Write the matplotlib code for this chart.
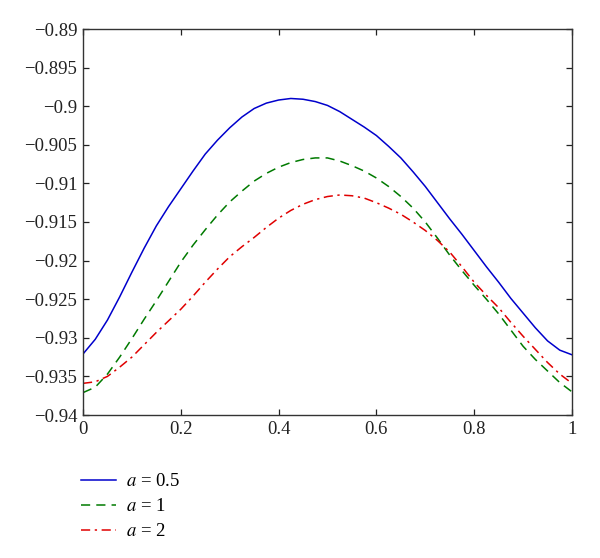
# Recreate: three curves for a = 0.5, 1, 2 over [0, 1]

import matplotlib
matplotlib.use('Agg')
import matplotlib.pyplot as plt

plt.rcParams['font.family'] = ['Liberation Serif', 'DejaVu Serif']
plt.rcParams['mathtext.fontset'] = 'stix'

# data (step 0.025)
x = [0.0, 0.025, 0.05, 0.075, 0.10, 0.125, 0.15, 0.175, 0.20, 0.225,
     0.25, 0.275, 0.30, 0.325, 0.35, 0.375, 0.40, 0.425, 0.45, 0.475,
     0.50, 0.525, 0.55, 0.575, 0.60, 0.625, 0.65, 0.675, 0.70, 0.725,
     0.75, 0.775, 0.80, 0.825, 0.85, 0.875, 0.90, 0.925, 0.95, 0.975, 1.0]
y_a05 = [-0.9321, -0.9302, -0.9277, -0.9247, -0.9215, -0.9184, -0.9155, -0.9130,
         -0.9107, -0.9084, -0.9062, -0.9044, -0.9028, -0.9014, -0.9003, -0.8996,
         -0.8992, -0.8990, -0.8991, -0.8994, -0.8999, -0.9007, -0.9017, -0.9027,
         -0.9038, -0.9052, -0.9067, -0.9085, -0.9104, -0.9125, -0.9146, -0.9166,
         -0.9187, -0.9208, -0.9228, -0.9249, -0.9268, -0.9287, -0.9304, -0.9316,
         -0.9322]
y_a1 = [-0.9371, -0.9364, -0.9347, -0.9325, -0.9301, -0.9276, -0.9252, -0.9227,
        -0.9202, -0.9180, -0.9160, -0.9141, -0.9124, -0.9110, -0.9097, -0.9087,
        -0.9079, -0.9073, -0.9069, -0.9067, -0.9067, -0.9071, -0.9077, -0.9084,
        -0.9093, -0.9104, -0.9117, -0.9132, -0.9150, -0.9171, -0.9193, -0.9213,
        -0.9232, -0.9250, -0.9269, -0.9290, -0.9311, -0.9328, -0.9343, -0.9358,
        -0.9370]
y_a2 = [-0.9359, -0.9357, -0.9350, -0.9338, -0.9325, -0.9309, -0.9293, -0.9278,
        -0.9263, -0.9246, -0.9228, -0.9211, -0.9195, -0.9182, -0.9170, -0.9157,
        -0.9145, -0.9135, -0.9127, -0.9121, -0.9117, -0.9115, -0.9116, -0.9119,
        -0.9125, -0.9132, -0.9140, -0.9150, -0.9161, -0.9174, -0.9189, -0.9208,
        -0.9228, -0.9245, -0.9261, -0.9280, -0.9298, -0.9315, -0.9332, -0.9347,
        -0.9359]
labels = ['$a$ = 0.5', '$a$ = 1', '$a$ = 2']
xticks = [0, 0.2, 0.4, 0.6, 0.8, 1]
xtick_labels = ['0', '0.2', '0.4', '0.6', '0.8', '1']
yticks = [-0.94, -0.935, -0.93, -0.925, -0.92, -0.915, -0.91, -0.905, -0.9, -0.895, -0.89]
ytick_labels = ['\u22120.94', '\u22120.935', '\u22120.93', '\u22120.925', '\u22120.92',
                '\u22120.915', '\u22120.91', '\u22120.905', '\u22120.9', '\u22120.895', '\u22120.89']

fig = plt.figure(figsize=(6, 5.58), dpi=100)
ax = fig.add_axes([83/600, 1 - 415/558, (572 - 83)/600, (415 - 29)/558])

l1, = ax.plot(x, y_a05, color='#0000cc', lw=1.1, label=labels[0])
l2, = ax.plot(x, y_a1, color='#007a00', lw=1.1, ls=(0, (6, 4)), label=labels[1])
l3, = ax.plot(x, y_a2, color='#e00000', lw=1.1, ls=(0, (6, 3, 1.5, 3)), label=labels[2])

ax.set_xlim(0, 1)
ax.set_ylim(-0.94, -0.89)
ax.set_xticks(xticks)
ax.set_xticklabels(xtick_labels)
ax.set_yticks(yticks)
ax.set_yticklabels(ytick_labels)
ax.tick_params(direction='in', top=True, right=True, length=4, width=0.9,
               labelsize=13.5, colors='#222222', pad=4)
for s in ax.spines.values():
    s.set_color('#333333')
    s.set_linewidth(1.0)

fig.legend(handles=[l1, l2, l3], loc='upper left',
           bbox_to_anchor=(81/600, 1 - 473/558), frameon=False,
           fontsize=13.5, handlelength=1.85, handletextpad=0.55,
           labelspacing=0.42, borderpad=0, borderaxespad=0)

fig.savefig('out.png', dpi=100)
